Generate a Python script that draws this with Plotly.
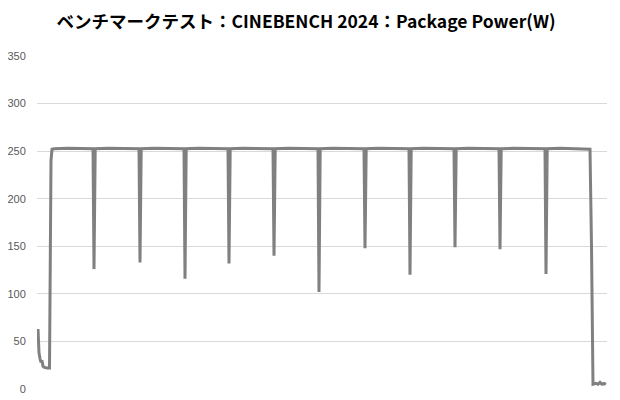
import plotly.graph_objects as go

# Time index (samples) and package power (W)
start_t = [0, 0.3, 1, 2, 3, 4, 5, 6, 9, 11.5, 12, 13, 14]
start_w = [63, 42, 38, 32, 28, 30, 24, 23, 22, 22, 100, 240, 252]

plateau_t = [16, 30, 44, 54, 70, 86, 100, 116, 132, 145, 160, 175, 189, 205, 220, 234,
             250, 265, 279, 295, 310, 325, 340, 355, 370, 385, 400, 415, 430, 445, 460,
             475, 490, 506, 522, 538, 550]
plateau_w = [252.5, 253, 252.5, 252.5, 253, 252.5, 252.5, 253, 252.5, 252.5, 253, 252.5, 252.5, 253, 252.5, 252.5,
             253, 252.5, 252.5, 253, 252.5, 252.5, 253, 252.5, 252.5, 253, 252.5, 252.5, 253, 252.5, 252.5,
             253, 252.5, 252.5, 253, 252.5, 252]

dip_t = [56, 102, 147, 191, 236, 281, 327, 372, 417, 462, 508]
dip_w = [126, 133, 116, 132, 140, 102, 148, 120, 149, 147, 121]

end_t = [552, 553.5, 554.5, 555, 558, 560, 562, 564, 566, 568]
end_w = [252, 150, 8, 5, 6, 5, 7, 5, 6, 5]

pts = list(zip(start_t, start_w)) + list(zip(plateau_t, plateau_w)) + list(zip(end_t, end_w))
for t, w in zip(dip_t, dip_w):
    pts += [(t - 1, 252.5), (t, w), (t + 1.2, 252.5)]
pts.sort(key=lambda p: p[0])
xs = [p[0] for p in pts]
ys = [p[1] for p in pts]

y_ticks = [0, 50, 100, 150, 200, 250, 300, 350]

fig = go.Figure()
fig.add_trace(go.Scatter(x=xs, y=ys, mode="lines",
                         line=dict(color="#808080", width=3), hoverinfo="skip"))

fig.update_layout(
    template="none",
    width=612, height=392,
    paper_bgcolor="white", plot_bgcolor="white",
    margin=dict(l=29, r=13, t=48, b=11, autoexpand=False),
    showlegend=False,
    title=dict(text="<b>ベンチマークテスト：CINEBENCH 2024：Package Power(W)</b>",
               x=0.487, xanchor="center", y=0.964, yanchor="middle",
               font=dict(family="Noto Sans CJK JP", size=17.5, color="#000000")),
    xaxis=dict(range=[-1, 569], showgrid=False, showticklabels=False, zeroline=False,
               showline=False, ticks="", automargin=False),
    yaxis=dict(range=[0, 350], tickvals=y_ticks, showgrid=True, gridcolor="#d9d9d9",
               gridwidth=1, zeroline=False, showline=False, automargin=False,
               ticks="outside", ticklen=8, tickcolor="rgba(0,0,0,0)",
               tickfont=dict(family="Liberation Sans", size=11, color="#595959")),
)

fig.write_html("out.html")
